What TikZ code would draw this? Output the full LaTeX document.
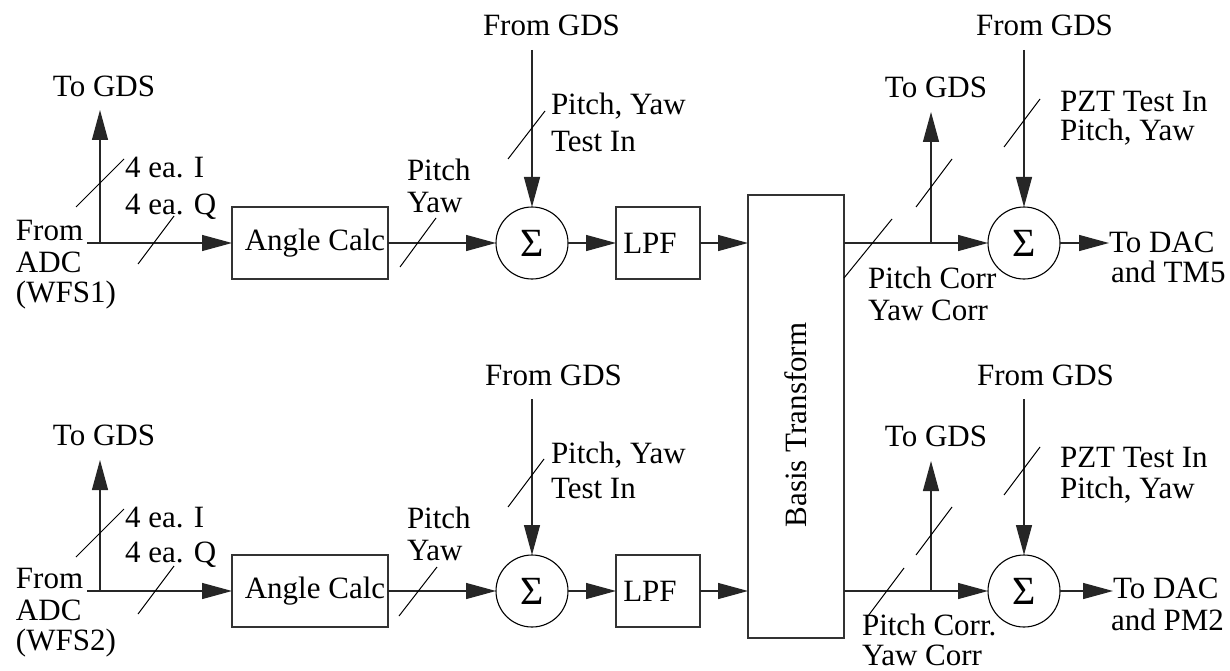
\documentclass[tikz,border=0pt]{standalone}
\usepackage{fontspec}
\setmainfont{Liberation Serif}
\usetikzlibrary{arrows.meta}
\begin{document}
\begin{tikzpicture}[x=1pt,y=-1pt,
  every node/.style={font=\fontsize{31}{33}\selectfont, inner sep=0pt, outer sep=0pt},
  lbl/.style={anchor=base west},
  lblc/.style={anchor=base},
  blk/.style={draw=black!80, line width=1.4pt, minimum height=72pt, inner sep=0pt},
  sumn/.style={draw=black, circle, line width=1.1pt, minimum size=72pt, inner sep=0pt,
    font=\fontsize{40}{40}\selectfont},
  wire/.style={line width=1.3pt, draw=black!85},
  arr/.style={wire, -{Triangle[length=30pt,width=16pt]}},
  slash/.style={line width=1pt, draw=black},
]
\useasboundingbox (0,0) rectangle (1230,671);

% ---------------- Basis Transform ----------------
\node[blk, minimum width=96pt, minimum height=443pt] (bt) at (796,416.5)
  {\rotatebox{90}{Basis Transform\hspace*{17pt}}};

% ================= Row 1 =================
\node[lbl] (from1a) at (16,240) {From};
\node[lbl] (from1b) at (16,272) {ADC};
\node[lbl] (from1c) at (16,302) {(WFS1)};
\coordinate (in1) at (87,243);
\coordinate (j1) at (100,243);
\coordinate (tg1) at (100,110);
\node[lblc] (togds1) at (104,97) {To GDS};
\node[lbl] (iq1a) at (125,178) {4 ea. I};
\node[lbl] (iq1b) at (125,214) {4 ea. Q};
\node[blk, minimum width=156pt] (ac1) at (310,243) {\hspace*{10pt}Angle Calc};
\node[lbl] (py1a) at (407,180) {Pitch};
\node[lbl] (py1b) at (407,212) {Yaw};
\node[sumn] (s1) at (532,243) {Σ};
\node[lbl] (fg1) at (483,36) {From GDS};
\coordinate (fg1c) at (532,50);
\node[lbl] (ti1a) at (551,115) {Pitch, Yaw};
\node[lbl] (ti1b) at (551,152) {Test In};
\node[blk, minimum width=84pt] (lp1) at (658,243) {LPF\hspace*{16pt}};
\coordinate (tj1) at (931,243);
\coordinate (tt1) at (931,112);
\node[lblc] (togds1r) at (936,98) {To GDS};
\node[lbl] (pc1a) at (868,288) {Pitch Corr};
\node[lbl] (pc1b) at (868,320) {Yaw Corr};
\node[sumn] (s2) at (1024,243) {Σ};
\node[lbl] (fg2) at (976,36) {From GDS};
\coordinate (fg2c) at (1024,50);
\node[lbl] (pz1a) at (1060,112) {PZT Test In};
\node[lbl] (pz1b) at (1060,141) {Pitch, Yaw};
\coordinate (out1) at (1109,243);
\node[lbl] (dac1a) at (1109,252) {To DAC};
\node[lbl] (dac1b) at (1111,282) {and TM5};

\draw[arr] (in1) -- (ac1);
\draw[arr] (j1) -- (tg1);
\draw[arr] (ac1) -- (s1);
\draw[arr] (fg1c) -- (s1);
\draw[arr] (s1) -- (lp1);
\draw[arr] (lp1) -- (lp1 -| bt.west);
\draw[arr] (bt.east |- s2) -- (s2);
\draw[arr] (tj1) -- (tt1);
\draw[arr] (fg2c) -- (s2);
\draw[arr] (s2) -- (out1);

\draw[slash] (76,207) -- (124,159);
\draw[slash] (138,264) -- (174,216);
\draw[slash] (400,267) -- (436,218);
\draw[slash] (508,159) -- (545,111);
\draw[slash] (844,278) -- (892,219);
\draw[slash] (916,207) -- (952,159);
\draw[slash] (1004,147) -- (1040,99);

% ================= Row 2 =================
\node[lbl] (from2a) at (16,588) {From};
\node[lbl] (from2b) at (16,620) {ADC};
\node[lbl] (from2c) at (16,650) {(WFS2)};
\coordinate (in2) at (87,591);
\coordinate (j2) at (100,591);
\coordinate (tg2) at (100,460);
\node[lblc] (togds2) at (104,445) {To GDS};
\node[lbl] (iq2a) at (125,527) {4 ea. I};
\node[lbl] (iq2b) at (125,562) {4 ea. Q};
\node[blk, minimum width=156pt] (ac2) at (310,591) {\hspace*{10pt}Angle Calc};
\node[lbl] (py2a) at (407,528) {Pitch};
\node[lbl] (py2b) at (407,560) {Yaw};
\node[sumn] (s3) at (532,591) {Σ};
\node[lbl] (fg3) at (485,385) {From GDS};
\coordinate (fg3c) at (532,399);
\node[lbl] (ti2a) at (551,463) {Pitch, Yaw};
\node[lbl] (ti2b) at (551,498) {Test In};
\node[blk, minimum width=84pt] (lp2) at (658,591) {LPF\hspace*{16pt}};
\coordinate (tj2) at (931,591);
\coordinate (tt2) at (931,461);
\node[lblc] (togds2r) at (936,446) {To GDS};
\node[lbl] (pc2a) at (862,635) {Pitch Corr.};
\node[lbl] (pc2b) at (862,665) {Yaw Corr};
\node[sumn] (s4) at (1024,591) {Σ};
\node[lbl] (fg4) at (977,385) {From GDS};
\coordinate (fg4c) at (1024,399);
\node[lbl] (pz2a) at (1060,467) {PZT Test In};
\node[lbl] (pz2b) at (1060,498) {Pitch, Yaw};
\coordinate (out2) at (1113,591);
\node[lbl] (dac2a) at (1113,598) {To DAC};
\node[lbl] (dac2b) at (1111,630) {and PM2};

\draw[arr] (in2) -- (ac2);
\draw[arr] (j2) -- (tg2);
\draw[arr] (ac2) -- (s3);
\draw[arr] (fg3c) -- (s3);
\draw[arr] (s3) -- (lp2);
\draw[arr] (lp2) -- (lp2 -| bt.west);
\draw[arr] (bt.east |- s4) -- (s4);
\draw[arr] (tj2) -- (tt2);
\draw[arr] (fg4c) -- (s4);
\draw[arr] (s4) -- (out2);

\draw[slash] (76,557) -- (124,509);
\draw[slash] (138,614) -- (174,566);
\draw[slash] (399,616) -- (437,567);
\draw[slash] (508,507) -- (544,459);
\draw[slash] (868,616) -- (904,568);
\draw[slash] (916,555) -- (952,507);
\draw[slash] (1004,495) -- (1040,447);
\end{tikzpicture}
\end{document}
